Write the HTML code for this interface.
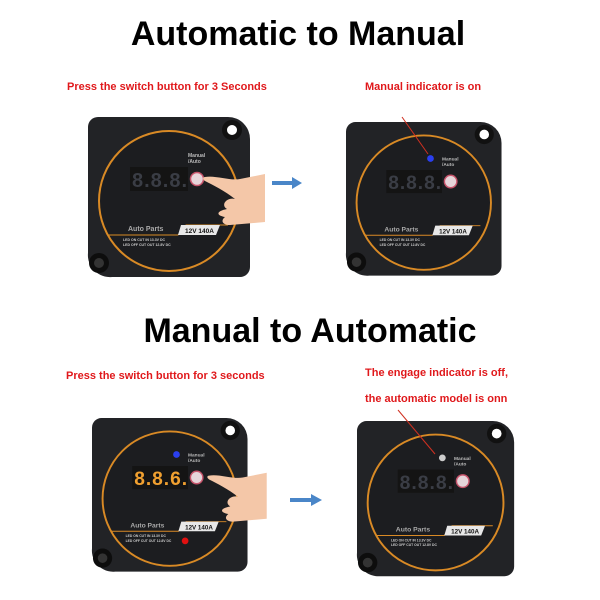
<!DOCTYPE html>
<html><head><style>
body{margin:0;background:#fff;width:600px;height:600px;overflow:hidden}
svg{display:block}
.t{font-family:"Liberation Sans",sans-serif;font-weight:bold}
</style></head><body>
<svg width="600" height="600" viewBox="0 0 600 600" xmlns="http://www.w3.org/2000/svg">
<defs>
<g id="dev">
  <path d="M10 0 H140 A22 22 0 0 1 162 22 V150 A10 10 0 0 1 152 160 H24 A22 22 0 0 1 0 136 V10 A10 10 0 0 1 10 0Z" fill="#222326"/>
  <circle cx="144" cy="13" r="10" fill="#111"/><circle cx="144" cy="13" r="5" fill="#fff"/>
  <circle cx="11" cy="146" r="10" fill="#0d0d0d"/><circle cx="11" cy="146" r="5" fill="#333"/>
  <circle cx="81" cy="84" r="70" fill="#1c1d20" stroke="#d98a25" stroke-width="2"/>
  <rect x="42" y="50" width="58" height="24" fill="#141414"/>
  <text x="44" y="70" class="t" font-size="20" fill="#3a3d45" font-family="Liberation Mono" letter-spacing="1">8.8.8.</text>
  <circle cx="109" cy="62" r="6.5" fill="#e6d5da" stroke="#c6546b" stroke-width="1.5"/>
  <text x="100" y="40" class="t" font-size="5" fill="#bbb">Manual</text>
  <text x="100" y="46" class="t" font-size="5" fill="#bbb">/Auto</text>
  <path d="M20 118 H90 L98 108 H140" stroke="#d98a25" stroke-width="1" fill="none"/>
  <text x="40" y="114" class="t" font-size="7" fill="#aaa">Auto Parts</text>
  <path d="M93 108 H132 L128 118 H90Z" fill="#e8e8e8"/>
  <text x="97" y="116" class="t" font-size="6.5" fill="#111">12V 140A</text>
  <text x="35" y="124" class="t" font-size="3.5" fill="#ccc">LED ON CUT IN 13.3V DC</text>
  <text x="35" y="129" class="t" font-size="3.5" fill="#ccc">LED OFF CUT OUT 12.8V DC</text>
</g>
<g id="hand">
  <path d="M0 0 C10 -2 25 4 35 2 L60 -3 V45 L25 48 C18 48 15 44 20 40 C10 38 12 34 22 32 C15 28 22 20 30 22 C20 14 8 8 0 4 C-3 2 -2 0 0 0Z" fill="#f4c7a8"/>
</g>
</defs>
<text x="298" y="45" text-anchor="middle" class="t" font-size="34" fill="#000">Automatic to Manual</text>
<text x="310" y="342" text-anchor="middle" class="t" font-size="34" fill="#000">Manual to Automatic</text>
<text x="67" y="90" class="t" font-size="11" fill="#e0181b">Press the switch button for 3 Seconds</text>
<text x="365" y="90" class="t" font-size="11" fill="#e0181b">Manual indicator is on</text>
<text x="66" y="379" class="t" font-size="11" fill="#e0181b">Press the switch button for 3 seconds</text>
<text x="365" y="376" class="t" font-size="11" fill="#e0181b">The engage indicator is off,</text>
<text x="365" y="402" class="t" font-size="11" fill="#e0181b">the automatic model is onn</text>

<g transform="translate(88,117)"><use href="#dev"/><use href="#hand" transform="translate(117,60)"/></g>
<g transform="translate(346,122) scale(0.96)"><use href="#dev"/><circle cx="88" cy="38" r="3.5" fill="#2a3ff0"/></g>
<g transform="translate(92,418) scale(0.96)"><use href="#dev"/><circle cx="88" cy="38" r="3.5" fill="#2a3ff0"/><circle cx="97" cy="128" r="3.5" fill="#e01010"/><rect x="42" y="50" width="58" height="24" fill="#141414"/><text x="44" y="70" class="t" font-size="20" fill="#f0a030" font-family="Liberation Mono" letter-spacing="1">8.8.6.</text><use href="#hand" transform="translate(122,60)"/></g>
<g transform="translate(357,421) scale(0.97)"><use href="#dev"/><circle cx="88" cy="38" r="3.5" fill="#ccc"/></g>

<path d="M272 183 H294" stroke="#4a86c8" stroke-width="4"/><path d="M292 177 L302 183 L292 189Z" fill="#4a86c8"/>
<path d="M290 500 H313" stroke="#4a86c8" stroke-width="4"/><path d="M311 494 L322 500 L311 506Z" fill="#4a86c8"/>
<path d="M402 117 L428 154" stroke="#d03020" stroke-width="1"/>
<path d="M398 410 L435 454" stroke="#d03020" stroke-width="1"/>
</svg>
</body></html>
